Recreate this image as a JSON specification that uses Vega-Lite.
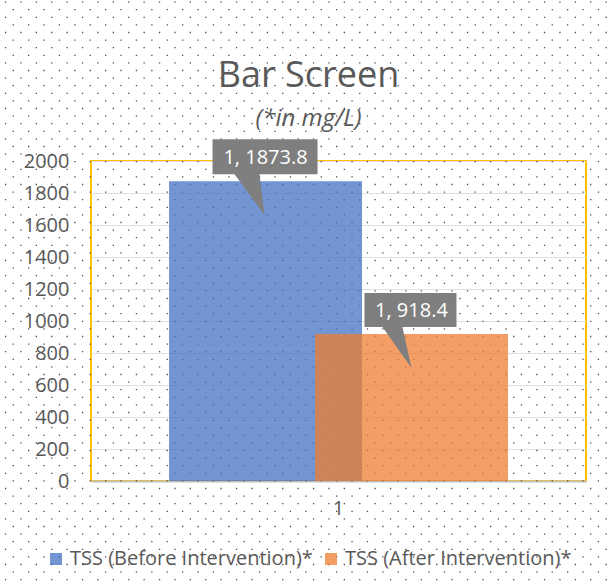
{
  "$schema": "https://vega.github.io/schema/vega-lite/v6.json",
  "width": 495,
  "height": 320,
  "autosize": {"type": "none"},
  "padding": {"left": 91, "top": 161, "right": 22, "bottom": 104},
  "background": "white",
  "config": {
    "font": "Open Sans",
    "view": {"stroke": "#FFC000", "strokeWidth": 2}
  },
  "title": {
    "text": "Bar Screen",
    "subtitle": "(*in mg/L)",
    "fontSize": 36,
    "fontWeight": "normal",
    "color": "#595959",
    "subtitleFontSize": 24,
    "subtitleFontStyle": "italic",
    "subtitleColor": "#595959",
    "subtitlePadding": 12,
    "anchor": "middle",
    "dx": -30,
    "offset": -132
  },
  "datasets": {
    "bars": [
      {"category": "1", "series": "TSS (Before Intervention)*", "value": 1873.8, "label": "1, 1873.8"},
      {"category": "1", "series": "TSS (After Intervention)*", "value": 918.4, "label": "1, 918.4"}
    ],
    "bg": [{"pattern": "dots"}]
  },
  "layer": [
    {
      "data": {"name": "bg"},
      "mark": {
        "type": "point",
        "filled": false,
        "size": 4,
        "stroke": "#4D4D4D",
        "strokeWidth": 1.3,
        "strokeDash": [1.3, 14.1],
        "strokeCap": "butt",
        "opacity": 1,
        "shape": "M-333.6 -318.9H275M-341.3 -311.3H275M-333.6 -303.7H275M-341.3 -296.1H275M-333.6 -288.5H275M-341.3 -280.9H275M-333.6 -273.3H275M-341.3 -265.7H275M-333.6 -258.1H275M-341.3 -250.5H275M-333.6 -242.9H275M-341.3 -235.3H275M-333.6 -227.7H275M-341.3 -220.1H275M-333.6 -212.5H275M-341.3 -204.9H275M-333.6 -197.3H275M-341.3 -189.7H275M-333.6 -182.1H275M-341.3 -174.5H275M-333.6 -166.9H275M-341.3 -159.3H275M-333.6 -151.7H275M-341.3 -144.1H275M-333.6 -136.5H275M-341.3 -128.9H275M-333.6 -121.3H275M-341.3 -113.7H275M-333.6 -106.1H275M-341.3 -98.5H275M-333.6 -90.9H275M-341.3 -83.3H275M-333.6 -75.7H275M-341.3 -68.1H275M-333.6 -60.5H275M-341.3 -52.9H275M-333.6 -45.3H275M-341.3 -37.7H275M-333.6 -30.1H275M-341.3 -22.5H275M-333.6 -14.9H275M-341.3 -7.3H275M-333.6 0.3H275M-341.3 7.9H275M-333.6 15.5H275M-341.3 23.1H275M-333.6 30.7H275M-341.3 38.3H275M-333.6 45.9H275M-341.3 53.5H275M-333.6 61.1H275M-341.3 68.7H275M-333.6 76.3H275M-341.3 83.9H275M-333.6 91.5H275M-341.3 99.1H275M-333.6 106.7H275M-341.3 114.3H275M-333.6 121.9H275M-341.3 129.5H275M-333.6 137.1H275M-341.3 144.7H275M-333.6 152.3H275M-341.3 159.9H275M-333.6 167.5H275M-341.3 175.1H275M-333.6 182.7H275M-341.3 190.3H275M-333.6 197.9H275M-341.3 205.5H275M-333.6 213.1H275M-341.3 220.7H275M-333.6 228.3H275M-341.3 235.9H275M-333.6 243.5H275M-341.3 251.1H275M-333.6 258.7H275"
      },
      "encoding": {}
    },
    {
      "data": {"name": "bars"},
      "encoding": {
        "x": {
          "field": "category",
          "type": "nominal",
          "scale": {"paddingInner": 0, "paddingOuter": 0.348},
          "axis": {
            "title": null,
            "ticks": false,
            "domain": true,
            "domainColor": "#BFBFBF",
            "domainWidth": 2,
            "labelAngle": 0,
            "labelFontSize": 20,
            "labelColor": "#595959",
            "labelPadding": 17,
            "grid": false
          }
        },
        "xOffset": {
          "field": "series",
          "type": "nominal",
          "sort": ["TSS (Before Intervention)*", "TSS (After Intervention)*"],
          "scale": {"paddingInner": 0, "paddingOuter": 0}
        },
        "y": {
          "field": "value",
          "type": "quantitative",
          "scale": {"domain": [0, 2000]},
          "axis": {
            "title": null,
            "format": "d",
            "values": [0, 200, 400, 600, 800, 1000, 1200, 1400, 1600, 1800, 2000],
            "domain": false,
            "ticks": false,
            "grid": true,
            "gridColor": "#E0E0E0",
            "gridWidth": 1,
            "labelFontSize": 20,
            "labelColor": "#595959",
            "labelPadding": 22
          }
        }
      },
      "layer": [
        {
          "mark": {"type": "bar", "width": 193, "opacity": 0.75},
          "encoding": {
            "color": {
              "field": "series",
              "type": "nominal",
              "sort": ["TSS (Before Intervention)*", "TSS (After Intervention)*"],
              "scale": {"range": ["#4472C4", "#ED7D31"]},
              "legend": {
                "orient": "none",
                "legendX": -45,
                "legendY": 388,
                "direction": "horizontal",
                "title": null,
                "symbolType": "square",
                "symbolSize": 144,
                "labelFontSize": 20,
                "labelColor": "#595959",
                "labelOffset": 4,
                "labelLimit": 0,
                "columnPadding": 8,
                "padding": 0
              }
            }
          }
        },
        {
          "mark": {"type": "point", "filled": true, "size": 4, "fill": "#7F7F7F", "opacity": 1, "strokeWidth": 0},
          "encoding": {
            "shape": {
              "field": "series",
              "type": "nominal",
              "sort": ["TSS (Before Intervention)*", "TSS (After Intervention)*"],
              "scale": {"range": [
                "M-53,-42L52,-42L52,-7L-6,-7L-1,34L-31,-7L-53,-7Z",
                "M-47,-41L45,-41L45,-7L-9,-7L0,34L-29,-7L-47,-7Z"
              ]},
              "legend": null
            }
          }
        },
        {
          "mark": {"type": "text", "color": "white", "fontSize": 20, "dy": -17, "baseline": "alphabetic"},
          "encoding": {"text": {"field": "label"}}
        }
      ]
    }
  ]
}
